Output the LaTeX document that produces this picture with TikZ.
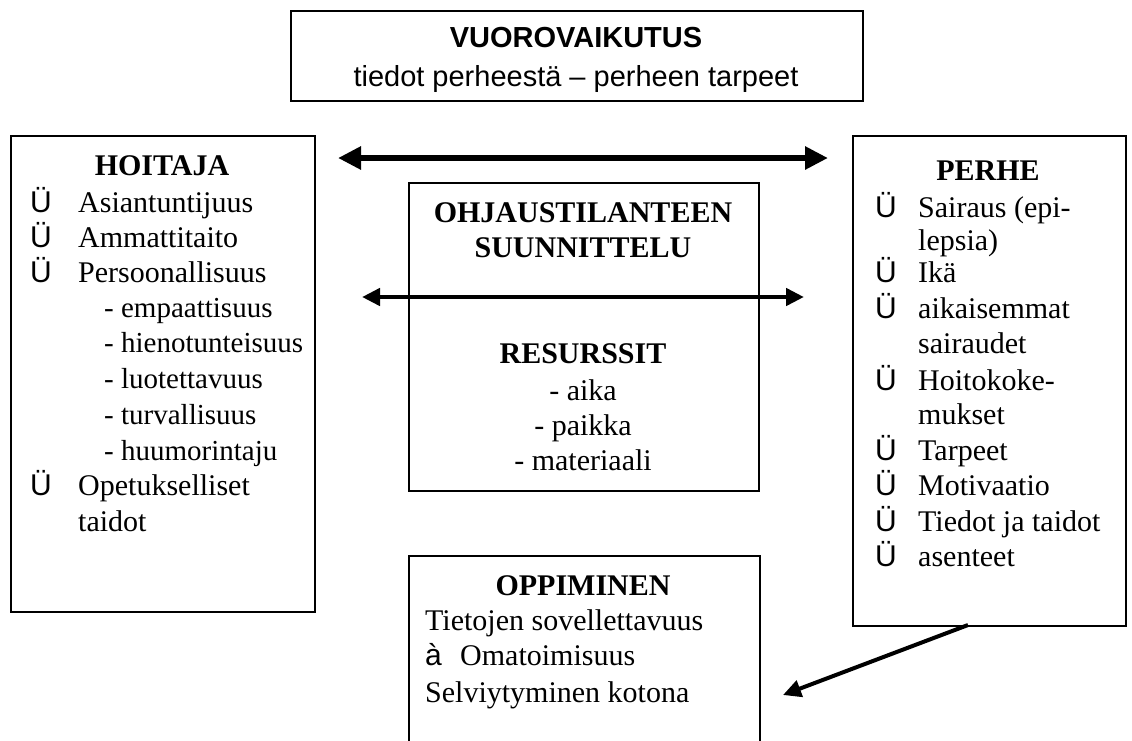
\documentclass[tikz,border=0pt]{standalone}
\usepackage{fontspec}
\setmainfont{Liberation Serif}
\newfontfamily\arialf{Liberation Sans}
\usetikzlibrary{arrows.meta}
\tikzset{
  box/.style={draw, line width=1.6pt, inner sep=0pt, anchor=north west},
  txt/.style={anchor=base west, inner sep=0pt, font=\fontsize{30}{35}\selectfont},
  subtxt/.style={anchor=base west, inner sep=0pt, font=\fontsize{29}{35}\selectfont},
  ctxt/.style={anchor=base, inner sep=0pt, font=\fontsize{30}{35}\selectfont},
  ttl/.style={anchor=base, inner sep=0pt, font=\fontsize{30}{35}\selectfont\bfseries},
  bul/.style={anchor=base west, inner sep=0pt, font=\fontsize{30}{35}\selectfont\arialf},
  bigarrow/.style={line width=6pt, {Triangle[length=23pt,width=22pt]}-{Triangle[length=23pt,width=22pt]}},
  midarrow/.style={line width=4.5pt, {Triangle[length=18pt,width=17pt]}-{Triangle[length=18pt,width=17pt]}},
  smallarrow/.style={line width=4pt, -{Triangle[length=18pt,width=17pt]}}
}
\begin{document}
\begin{tikzpicture}[x=1pt,y=-1pt]
\clip (0,0) rectangle (1132,740);
\useasboundingbox (0,0) rectangle (1132,740);
% top box
\node[box, minimum width=572pt, minimum height=90pt] (top) at (290,10) {};
\node[anchor=base, inner sep=0pt, font=\fontsize{29}{34}\selectfont\arialf\bfseries] (topt) at (576,47) {VUOROVAIKUTUS};
\node[anchor=base, inner sep=0pt, font=\fontsize{29}{34}\selectfont\arialf] (tops) at (576,86) {tiedot perheestä – perheen tarpeet};
% left box
\node[box, minimum width=304pt, minimum height=476pt] (hoit) at (10,135) {};
\node[ttl] (hoitt) at (162,175) {HOITAJA};
\foreach \y/\t [count=\i] in {212/Asiantuntijuus, 247/Ammattitaito, 282/Persoonallisuus, 495/Opetukselliset}{
  \node[bul] (hb\i) at (30,\y) {Ü};
  \node[txt] (ht\i) at (78,\y) {\t};
}
\foreach \y/\t [count=\i] in {317/- empaattisuus, 352/- hienotunteisuus, 388/- luotettavuus, 424/- turvallisuus, 460/- huumorintaju}{
  \node[subtxt] (hd\i) at (104,\y) {\t};
}
\node[txt] (htaid) at (78,531) {taidot};
% right box
\node[box, minimum width=273pt, minimum height=490pt] (perhe) at (852,135) {};
\node[ttl] (perhet) at (988,180) {PERHE};
\foreach \y/\t [count=\i] in {217/Sairaus (epi-, 282/Ikä, 318/aikaisemmat, 390/Hoitokoke-, 460/Tarpeet, 495/Motivaatio, 531/Tiedot ja taidot, 566/asenteet}{
  \node[bul] (pb\i) at (875,\y) {Ü};
  \node[txt] (pt\i) at (918,\y) {\t};
}
\node[txt] (pc1) at (918,250) {lepsia)};
\node[txt] (pc2) at (918,353) {sairaudet};
\node[txt] (pc3) at (918,424) {mukset};
% center box
\node[box, minimum width=350pt, minimum height=308pt] (mid) at (408,182) {};
\node[ttl] (m1) at (583,222) {OHJAUSTILANTEEN};
\node[ttl] (m2) at (583,257) {SUUNNITTELU};
\node[ttl] (m3) at (583,363) {RESURSSIT};
\node[ctxt] (m4) at (583,400) {- aika};
\node[ctxt] (m5) at (583,435) {- paikka};
\node[ctxt] (m6) at (583,470) {- materiaali};
% bottom box (open at the bottom of the page)
\node[box, minimum width=351pt, minimum height=220pt] (opp) at (408,555) {};
\node[ttl] (o1) at (583,595) {OPPIMINEN};
\node[txt] (o2) at (425,630) {Tietojen sovellettavuus};
\node[bul] (o3a) at (425,665) {à};
\node[txt] (o3) at (460,665) {Omatoimisuus};
\node[txt] (o4) at (425,702) {Selviytyminen kotona};
% arrows
\coordinate (a1l) at (338,158);
\coordinate (a1r) at (828,158);
\coordinate (a2l) at (362,297);
\coordinate (a2r) at (804,297);
\coordinate (a3s) at (968,625);
\coordinate (a3e) at (783,695);
\draw[bigarrow] (a1l) -- (a1r);
\draw[midarrow] (a2l) -- (a2r);
\draw[smallarrow] (a3s) -- (a3e);
\end{tikzpicture}
\end{document}
